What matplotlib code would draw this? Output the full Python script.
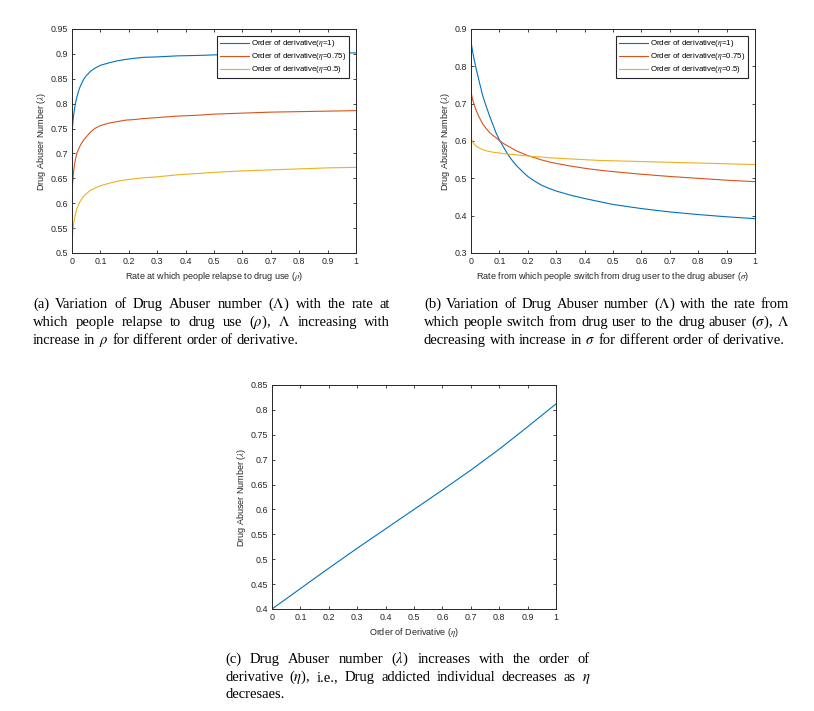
import numpy as np
import matplotlib
matplotlib.use('Agg')
import matplotlib.pyplot as plt
from matplotlib.ticker import FuncFormatter

plt.rcParams['font.family'] = ['Liberation Sans', 'DejaVu Sans']
plt.rcParams['mathtext.fontset'] = 'stix'

# colours (matlab default order)
c_blue = '#0072BD'
c_red = '#D95319'
c_yel = '#EDB120'
c_axis = '0.15'

# panel (a): relapse rate rho
rho = [0, 0.001, 0.002, 0.004, 0.006, 0.009, 0.012, 0.017, 0.024, 0.03, 0.041, 0.05, 0.065, 0.08, 0.1,
       0.13, 0.159, 0.19, 0.218, 0.25, 0.3, 0.37, 0.45, 0.5, 0.6, 0.7, 0.8, 0.9, 1.0]
a_eta1 = [0.719, 0.743, 0.755, 0.768, 0.778, 0.790, 0.800, 0.813, 0.827, 0.836, 0.849, 0.856, 0.865, 0.871, 0.877,
          0.882, 0.886, 0.889, 0.891, 0.893, 0.894, 0.896, 0.897, 0.898, 0.899, 0.900, 0.901, 0.902, 0.902]
a_eta075 = [0.601, 0.625, 0.638, 0.653, 0.666, 0.678, 0.688, 0.700, 0.710, 0.717, 0.727, 0.733, 0.743, 0.750, 0.756,
            0.761, 0.764, 0.767, 0.768, 0.770, 0.772, 0.775, 0.777, 0.779, 0.781, 0.783, 0.784, 0.785, 0.786]
a_eta05 = [0.507, 0.525, 0.537, 0.550, 0.560, 0.570, 0.578, 0.589, 0.598, 0.605, 0.614, 0.619, 0.626, 0.630, 0.635,
           0.640, 0.644, 0.647, 0.649, 0.651, 0.653, 0.657, 0.660, 0.662, 0.665, 0.667, 0.669, 0.671, 0.672]

# panel (b): switching rate sigma
sigma = [0, 0.002, 0.006, 0.012, 0.018, 0.03, 0.041, 0.053, 0.065, 0.077, 0.088, 0.1, 0.115, 0.129, 0.145, 0.159,
         0.18, 0.2, 0.225, 0.25, 0.275, 0.3, 0.35, 0.4, 0.45, 0.5, 0.6, 0.7, 0.8, 0.9, 1.0]
b_eta1 = [0.866, 0.857, 0.838, 0.815, 0.794, 0.756, 0.722, 0.694, 0.668, 0.644, 0.622, 0.603, 0.583, 0.565, 0.548, 0.535,
          0.519, 0.505, 0.492, 0.481, 0.473, 0.466, 0.455, 0.446, 0.438, 0.430, 0.419, 0.410, 0.403, 0.397, 0.392]
b_eta075 = [0.732, 0.724, 0.710, 0.695, 0.682, 0.662, 0.646, 0.634, 0.623, 0.615, 0.609, 0.601, 0.593, 0.587, 0.580, 0.574,
            0.567, 0.561, 0.555, 0.549, 0.544, 0.540, 0.533, 0.527, 0.522, 0.518, 0.511, 0.505, 0.500, 0.495, 0.491]
b_eta05 = [0.614, 0.605, 0.597, 0.591, 0.586, 0.581, 0.577, 0.574, 0.572, 0.570, 0.569, 0.568, 0.566, 0.565, 0.564, 0.563,
           0.561, 0.560, 0.558, 0.557, 0.555, 0.554, 0.552, 0.550, 0.548, 0.547, 0.545, 0.543, 0.541, 0.539, 0.537]

# panel (c): order of derivative
eta = [0, 0.1, 0.2, 0.3, 0.4, 0.5, 0.6, 0.7, 0.8, 0.9, 1.0]
c_lambda = [0.400, 0.441, 0.482, 0.522, 0.561, 0.600, 0.639, 0.679, 0.721, 0.766, 0.812]

legend_labels = [r'Order of derivative($\eta$=1)', r'Order of derivative($\eta$=0.75)', r'Order of derivative($\eta$=0.5)']
x_ticks = [0, 0.1, 0.2, 0.3, 0.4, 0.5, 0.6, 0.7, 0.8, 0.9, 1]

cap_a = [r'(a) Variation of Drug Abuser number ($\Lambda$) with the rate at',
         r'which people relapse to drug use ($\rho$), $\Lambda$ increasing with',
         r'increase in $\rho$ for different order of derivative.']
cap_b = [r'(b) Variation of Drug Abuser number ($\Lambda$) with the rate from',
         r'which people switch from drug user to the drug abuser ($\sigma$), $\Lambda$',
         r'decreasing with increase in $\sigma$ for different order of derivative.']
cap_c = [r'(c) Drug Abuser number ($\lambda$) increases with the order of',
         r'derivative ($\eta$), i.e., Drug addicted individual decreases as $\eta$',
         r'decresaes.']

W, H = 814, 711
fig = plt.figure(figsize=(W / 100, H / 100), dpi=100)


def make_axes(l, r, t, b):
    return fig.add_axes([l / W, 1 - b / H, (r - l) / W, (b - t) / H])


def style(ax, ylim, yticks):
    ax.set_xlim(0, 1)
    ax.set_ylim(*ylim)
    ax.set_xticks(x_ticks)
    ax.set_yticks(yticks)
    fmt = FuncFormatter(lambda v, p: '%g' % round(v, 3))
    ax.xaxis.set_major_formatter(fmt)
    ax.yaxis.set_major_formatter(fmt)
    ax.tick_params(direction='in', top=True, right=True, length=2.5, width=0.6,
                   labelsize=6.4, colors=c_axis, pad=3)
    for s in ax.spines.values():
        s.set_linewidth(0.7)
        s.set_color(c_axis)


def add_legend(ax):
    leg = ax.legend(legend_labels, loc='upper right', fontsize=5.7, fancybox=False,
                    edgecolor=c_axis, framealpha=1, handlelength=3.6, handletextpad=0.35,
                    labelspacing=0.25, borderpad=0.35, borderaxespad=0.85)
    leg.get_frame().set_linewidth(0.8)


# (a)
ax1 = make_axes(72, 356, 29, 253)
ax1.plot(rho, a_eta1, color=c_blue, lw=0.8)
ax1.plot(rho, a_eta075, color=c_red, lw=0.8)
ax1.plot(rho, a_eta05, color=c_yel, lw=0.8)
style(ax1, (0.5, 0.95), np.arange(0.5, 0.951, 0.05))
ax1.set_xlabel(r'Rate at which people relapse to drug use ($\rho$)', fontsize=6.5, color=c_axis, labelpad=3)
ax1.set_ylabel(r'Drug Abuser Number ($\lambda$)', fontsize=6.5, color=c_axis, labelpad=1.5)
add_legend(ax1)

# (b)
ax2 = make_axes(471, 755, 29, 253)
ax2.plot(sigma, b_eta1, color=c_blue, lw=0.8)
ax2.plot(sigma, b_eta075, color=c_red, lw=0.8)
ax2.plot(sigma, b_eta05, color=c_yel, lw=0.8)
style(ax2, (0.3, 0.9), np.arange(0.3, 0.901, 0.1))
ax2.set_xlabel(r'Rate from which people switch from drug user to the drug abuser ($\sigma$)', fontsize=6.5, color=c_axis, labelpad=3)
ax2.set_ylabel(r'Drug Abuser Number ($\lambda$)', fontsize=6.5, color=c_axis, labelpad=1.5)
add_legend(ax2)

# (c)
ax3 = make_axes(272, 556, 385, 609)
ax3.plot(eta, c_lambda, color=c_blue, lw=0.8)
style(ax3, (0.4, 0.85), np.arange(0.4, 0.851, 0.05))
ax3.set_xlabel(r'Order of Derivative ($\eta$)', fontsize=6.5, color=c_axis, labelpad=3)
ax3.set_ylabel(r'Drug Abuser Number ($\lambda$)', fontsize=6.5, color=c_axis, labelpad=1.5)

# captions, justified like the paper
renderer = fig.canvas.get_renderer()
cap_size = 10.5


def caption(lines, x0, x1, ys):
    space = fig.text(0, 0, 'a b', fontsize=cap_size, family='Liberation Serif')
    sw = space.get_window_extent(renderer).width
    space.set_text('ab')
    sw -= space.get_window_extent(renderer).width
    space.remove()
    for i, (line, y) in enumerate(zip(lines, ys)):
        words = line.split(' ')
        # baseline sits about 4 px under the middle of the line
        texts = [fig.text(0, 1 - (y + 4) / H, w, fontsize=cap_size, family='Liberation Serif',
                          va='baseline', ha='left') for w in words]
        widths = [t.get_window_extent(renderer).width for t in texts]
        if i < len(lines) - 1 and len(words) > 1:
            gap = (x1 - x0 - sum(widths)) / (len(words) - 1)
        else:
            gap = sw
        x = x0
        for t, w in zip(texts, widths):
            t.set_x(x / W)
            x += w + gap


caption(cap_a, 33, 390, [304, 322, 340])
caption(cap_b, 424, 789, [304, 322, 340])
caption(cap_c, 225, 590, [659, 677, 694])

fig.savefig('out.png', dpi=100)
